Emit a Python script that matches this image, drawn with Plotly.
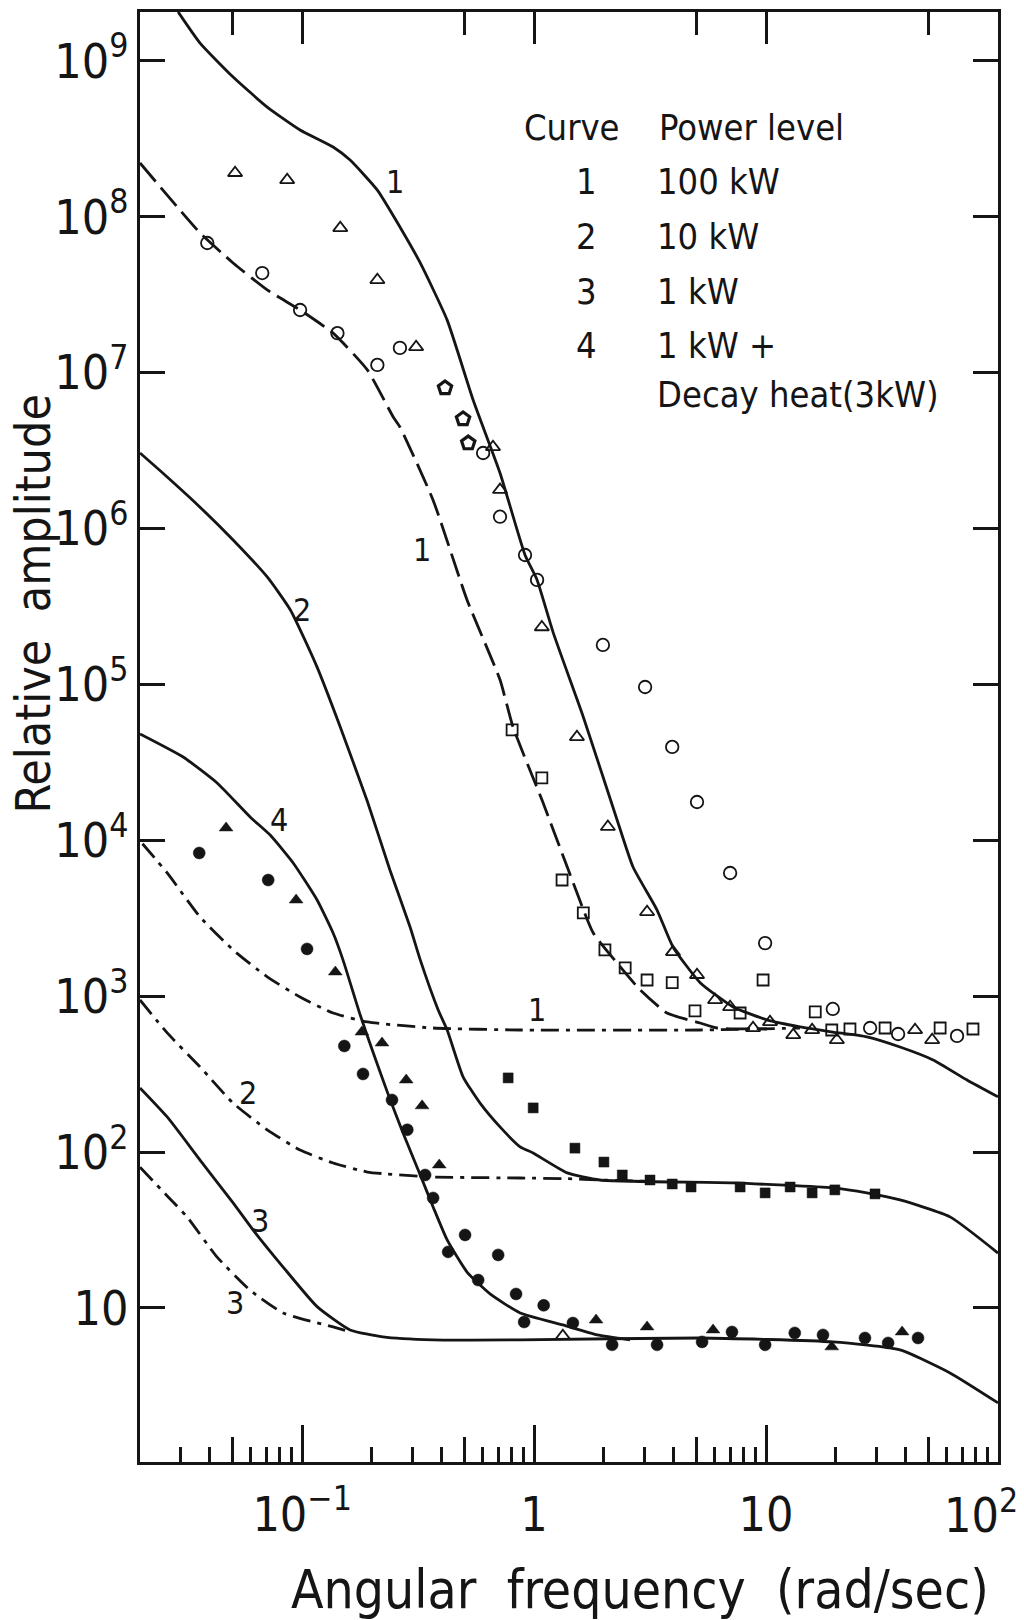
import plotly.graph_objects as go

INK = "#151515"
FONT = "DejaVu Sans Condensed, Liberation Sans Narrow, DejaVu Sans, sans-serif"

# ---------------- theoretical curves (x: rad/s, y: relative amplitude) ----------------
c1_solid_x = [0.0292, 0.0363, 0.0504, 0.0707, 0.0980, 0.136, 0.161, 0.211, 0.264, 0.323, 0.422, 0.546,
              0.713, 0.914, 1.03, 1.21, 1.63, 2.28, 2.67, 3.39, 3.97, 5.20, 7.21, 10.1, 14.0, 19.4,
              27.2, 37.8, 52.5, 73.5, 100]
c1_solid_y = [2.06e9, 1.30e9, 7.87e8, 5.05e8, 3.60e8, 2.80e8, 2.31e8, 1.48e8, 8.59e7, 5.05e7, 2.17e7, 6.67e6,
              2.27e6, 6.76e5, 4.68e5, 2.14e5, 6.18e4, 1.35e4, 6.74e3, 3.57e3, 2.07e3, 1.22e3, 853, 704, 635, 589,
              548, 472, 390, 290, 226]

c1_dash_x = [0.0200, 0.0363, 0.0504, 0.0707, 0.0980, 0.136, 0.191, 0.247, 0.264, 0.367, 0.514, 0.713,
             0.811, 1.09, 1.39, 1.80, 2.28, 2.86, 3.74, 5.20, 6.15, 10.1]
c1_dash_y = [2.21e8, 7.87e7, 5.05e7, 3.39e7, 2.52e7, 1.79e7, 1.04e7, 5.19e6, 4.48e6, 1.52e6, 3.48e5, 1.07e5,
             5.33e4, 1.76e4, 6.74e3, 2.54e3, 1.63e3, 1.10e3, 780, 673, 625, 616]

c1_dd_x = [0.0205, 0.0262, 0.0363, 0.0504, 0.0707, 0.0980, 0.136, 0.191, 0.367, 0.871, 5.20, 14.0]
c1_dd_y = [9.5e3, 6.17e3, 3.22e3, 1.98e3, 1.33e3, 988, 780, 683, 625, 607, 607, 625]

c2_solid_x = [0.0200, 0.0262, 0.0363, 0.0504, 0.0707, 0.0890, 0.116, 0.146, 0.191, 0.239, 0.292, 0.323,
              0.386, 0.422, 0.494, 0.585, 0.713, 0.871, 0.991, 1.39, 1.92, 7.21, 19.4, 27.2, 37.8, 62.1, 100]
c2_solid_y = [3.05e6, 2.14e6, 1.37e6, 8.44e5, 4.89e5, 3.00e5, 1.29e5, 5.33e4, 1.78e4, 6.45e3, 2.78e3, 1.71e3,
              816, 607, 304, 206, 145, 108, 98.6, 73.5, 66.2, 63.4, 58.9, 54.7, 49.3, 38.4, 22.5]

c2_dd_x = [0.0200, 0.0262, 0.0363, 0.0504, 0.0707, 0.0980, 0.136, 0.191, 0.232, 0.367, 0.871, 1.39, 1.92, 3.0]
c2_dd_y = [946, 581, 352, 206, 139, 103, 85.1, 74.5, 72.4, 69.2, 68.2, 67.5, 66.2, 65.0]

c3_solid_x = [0.0200, 0.0262, 0.0363, 0.0504, 0.0615, 0.0828, 0.116, 0.161, 0.223, 0.367, 0.871, 5.20,
              19.4, 37.8, 62.1, 100]
c3_solid_y = [258, 168, 88.9, 47.2, 31.6, 18.3, 10.2, 7.23, 6.52, 6.24, 6.24, 6.42, 6.06, 5.38, 3.83, 2.46]

c3_dd_x = [0.0200, 0.0262, 0.0319, 0.0430, 0.0597, 0.0828, 0.136, 0.161]
c3_dd_y = [80, 52.3, 38.4, 21.2, 13.0, 9.29, 7.56, 7.02]

c4_solid_x = [0.0200, 0.0307, 0.0430, 0.0597, 0.0728, 0.0915, 0.116, 0.136, 0.150, 0.178, 0.202, 0.232,
              0.272, 0.323, 0.367, 0.422, 0.514, 0.646, 0.871, 1.33, 1.87, 2.59]
c4_solid_y = [4.81e4, 3.42e4, 2.33e4, 1.41e4, 1.08e4, 7.15e3, 4.14e3, 2.54e3, 1.71e3, 757, 438, 247,
              133, 71.3, 44.5, 27.3, 17.0, 12.3, 9.29, 7.78, 6.72, 6.24]

# ---------------- measured points ----------------
open_circle_x = [0.0390, 0.0673, 0.0980, 0.142, 0.211, 0.264, 0.603, 0.713, 0.914, 1.03, 1.98, 3.01,
                 3.94, 5.04, 7.00, 9.91, 19.4, 28.1, 37.1, 66.6]
open_circle_y = [6.78e7, 4.35e7, 2.52e7, 1.79e7, 1.12e7, 1.44e7, 3.05e6, 1.19e6, 6.76e5, 4.68e5, 1.79e5, 9.62e4,
                 3.97e4, 1.76e4, 6.17e3, 2.19e3, 828, 625, 572, 556]

open_tri_x = [0.0514, 0.0862, 0.146, 0.211, 0.310, 0.665, 0.713, 1.08, 1.53, 2.08, 3.07, 3.97, 5.04,
              6.03, 7.00, 8.79, 10.4, 13.1, 15.8, 20.2, 43.9, 52.0, 1.33]
open_tri_y = [1.91e8, 1.72e8, 8.46e7, 3.93e7, 1.46e7, 3.33e6, 1.77e6, 2.33e5, 4.60e4, 1.22e4, 3.47e3, 1.92e3, 1.37e3,
              946, 853, 625, 683, 564, 607, 524, 607, 524, 6.61]

open_sq_x = [0.804, 1.08, 1.32, 1.63, 2.02, 2.47, 3.07, 3.94, 4.94, 7.73, 9.71, 16.3, 19.2, 23.0, 32.6, 56.3, 78.0]
open_sq_y = [5.10e4, 2.51e4, 5.56e3, 3.42e3, 1.98e3, 1.52e3, 1.27e3, 1.22e3, 804, 780, 1.27e3, 792, 607, 616, 625, 625, 616]

house_x = [0.413, 0.494, 0.520]
house_y = [7.96e6, 5.04e6, 3.53e6]

filled_sq_x = [0.773, 0.991, 1.50, 2.00, 2.40, 3.16, 3.94, 4.75, 7.73, 9.91, 12.7, 15.8, 19.8, 29.5]
filled_sq_y = [299, 192, 106, 86.3, 71.3, 66.2, 62.4, 59.7, 59.7, 54.7, 59.7, 54.7, 57.2, 53.9]

filled_circle_x = [0.0360, 0.0714, 0.105, 0.152, 0.183, 0.244, 0.284, 0.339, 0.367, 0.504, 0.426, 0.700,
                   0.574, 0.836, 1.10, 0.906, 1.47, 2.17, 3.39, 5.30, 7.13, 9.91, 13.3, 17.6, 26.7, 33.6, 45.2]
filled_circle_y = [8.29e3, 5.56e3, 2.01e3, 479, 317, 216, 139, 71.3, 50.8, 29.4, 22.9, 21.9,
                   15.1, 12.3, 10.4, 8.13, 8.01, 5.80, 5.80, 6.06, 7.02, 5.80, 6.92, 6.72, 6.42, 5.97, 6.42]

filled_tri_x = [0.0470, 0.0942, 0.139, 0.181, 0.221, 0.281, 0.329, 0.390, 1.85, 3.07, 5.91, 19.2, 38.6]
filled_tri_y = [1.20e4, 4.14e3, 1.43e3, 589, 501, 290, 198, 82.7, 8.37, 7.56, 7.23, 5.63, 7.02]

# ---------------- axis ticks / labels ----------------
x_major = [0.1, 1, 10, 100]
x_major_text = ["10<sup>\u22121</sup>", "1", "10", ""]
x_edge_label = "10<sup>2</sup>"          # label of the last major tick (drawn flush with the frame edge)
x_minor = [0.03, 0.04, 0.06, 0.07, 0.08, 0.09, 0.2, 0.3, 0.4, 0.6, 0.7, 0.8, 0.9,
           2, 3, 4, 6, 7, 8, 9, 20, 30, 40, 60, 70, 80, 90]
x_half = [0.05, 0.5, 5, 50]
x_top_major = [0.1, 1, 10]
y_major = [1e1, 1e2, 1e3, 1e4, 1e5, 1e6, 1e7, 1e8, 1e9]
y_major_text = ["10", "10<sup>2</sup>", "10<sup>3</sup>", "10<sup>4</sup>", "10<sup>5</sup>",
                "10<sup>6</sup>", "10<sup>7</sup>", "10<sup>8</sup>", "10<sup>9</sup>"]

legend_curves = ["1", "2", "3", "4", ""]
legend_levels = ["100 kW", "10 kW", "1 kW", "1 kW +", "Decay heat(3kW)"]

X_RANGE = [-1.699, 2.0]
Y_RANGE = [0.012, 9.313]
TW = 2.5

fig = go.Figure()

def line(x, y, dash=None, width=2.8):
    fig.add_trace(go.Scatter(x=x, y=y, mode="lines", hoverinfo="skip", showlegend=False,
                             line=dict(color=INK, width=width, dash=dash, shape="spline", smoothing=0.5)))

line(c1_solid_x, c1_solid_y)
line(c1_dash_x, c1_dash_y, dash="24px,8px")
line(c1_dd_x, c1_dd_y, dash="18px,7px,4px,7px")
line(c2_solid_x, c2_solid_y)
line(c2_dd_x, c2_dd_y, dash="18px,7px,4px,7px")
line(c3_solid_x, c3_solid_y)
line(c3_dd_x, c3_dd_y, dash="18px,7px,4px,7px")
line(c4_solid_x, c4_solid_y)

def pts(x, y, symbol, size, lw=1.8, xaxis="x"):
    fig.add_trace(go.Scatter(x=x, y=y, mode="markers", hoverinfo="skip", showlegend=False,
                             xaxis=xaxis, yaxis="y",
                             marker=dict(symbol=symbol, size=size, color=INK,
                                         line=dict(color=INK, width=lw))))

# (x2 / x3 share the exact range of x; they only carry the extra tick rows)
pts(open_circle_x, open_circle_y, "circle-open", 12.5, xaxis="x2")
pts(open_tri_x, open_tri_y, "triangle-up-open", 12.5)
pts(open_sq_x, open_sq_y, "square-open", 11)
pts(house_x, house_y, "pentagon-open", 14, lw=3.2)
pts(filled_sq_x, filled_sq_y, "square", 10, lw=0.5, xaxis="x3")
pts(filled_circle_x, filled_circle_y, "circle", 12, lw=0.5)
pts(filled_tri_x, filled_tri_y, "triangle-up", 12, lw=0.5)

# curve labels (positions in log10 data units)
curve_labels = [("1", -0.60, 8.22), ("1", -0.483, 5.86), ("2", -1.0, 5.48), ("4", -1.10, 4.13),
                ("1", 0.013, 2.91), ("2", -1.233, 2.38), ("3", -1.181, 1.56), ("3", -1.289, 1.03)]
anns = []
for t, lx, ly in curve_labels:
    anns.append(dict(text=t, x=lx, y=ly, xref="x", yref="y", showarrow=False,
                     xanchor="center", yanchor="middle",
                     font=dict(family=FONT, size=32, color=INK)))

# last x tick label, kept inside the page
anns.append(dict(text=x_edge_label, x=X_RANGE[1], y=-0.0345, xref="x", yref="paper",
                 xanchor="right", yanchor="middle", xshift=22, showarrow=False,
                 font=dict(family=FONT, size=48, color=INK)))

# legend table
LEG = 36
anns.append(dict(text="Curve", x=0.445, y=0.920, xref="paper", yref="paper", xanchor="left",
                 yanchor="middle", showarrow=False, font=dict(family=FONT, size=LEG, color=INK)))
anns.append(dict(text="Power level", x=0.603, y=0.920, xref="paper", yref="paper", xanchor="left",
                 yanchor="middle", showarrow=False, font=dict(family=FONT, size=LEG, color=INK)))
rows_y = [0.883, 0.845, 0.807, 0.770, 0.736]
for num, lvl, yy in zip(legend_curves, legend_levels, rows_y):
    if num:
        anns.append(dict(text=num, x=0.520, y=yy, xref="paper", yref="paper", xanchor="center",
                         yanchor="middle", showarrow=False, font=dict(family=FONT, size=LEG, color=INK)))
    anns.append(dict(text=lvl, x=0.600, y=yy, xref="paper", yref="paper", xanchor="left",
                     yanchor="middle", showarrow=False, font=dict(family=FONT, size=LEG, color=INK)))

# axis titles
anns.append(dict(text="Angular  frequency  (rad/sec)", x=0.583, y=-0.0876, xref="paper", yref="paper",
                 xanchor="center", yanchor="middle",
                 showarrow=False, font=dict(family=FONT, size=53, color=INK)))
anns.append(dict(text="Relative  amplitude", x=-0.1247, y=0.592, xref="paper", yref="paper",
                 xanchor="center", yanchor="middle",
                 textangle=-90, showarrow=False, font=dict(family=FONT, size=48, color=INK)))

fig.update_layout(
    width=1024, height=1620,
    margin=dict(l=140, r=26, t=12, b=158, autoexpand=False),
    paper_bgcolor="white", plot_bgcolor="white",
    showlegend=False,
    annotations=anns,
    xaxis=dict(type="log", range=X_RANGE, tickmode="array", tickvals=x_major, ticktext=x_major_text,
               ticks="inside", ticklen=37, tickwidth=TW, tickcolor=INK, automargin=False,
               showline=True, linewidth=2.8, linecolor=INK, mirror=True,
               showgrid=False, zeroline=False, ticklabelstandoff=8,
               tickfont=dict(family=FONT, size=48, color=INK),
               minor=dict(tickmode="array", tickvals=x_minor, ticks="inside", ticklen=15,
                          tickwidth=TW, tickcolor=INK, showgrid=False)),
    xaxis2=dict(type="log", range=X_RANGE, overlaying="x", side="top", anchor="y", automargin=False,
                tickmode="array", tickvals=x_top_major, ticks="inside", ticklen=32, tickwidth=TW,
                tickcolor=INK, showticklabels=False, showline=False, showgrid=False, zeroline=False,
                minor=dict(tickmode="array", tickvals=x_half, ticks="inside", ticklen=23,
                           tickwidth=TW, tickcolor=INK, showgrid=False)),
    xaxis3=dict(type="log", range=X_RANGE, overlaying="x", side="bottom", anchor="y", automargin=False,
                tickmode="array", tickvals=x_half, ticks="inside", ticklen=25, tickwidth=TW,
                tickcolor=INK, showticklabels=False, showline=False, showgrid=False, zeroline=False),
    yaxis=dict(type="log", range=Y_RANGE, tickmode="array", tickvals=y_major, ticktext=y_major_text,
               ticks="inside", ticklen=25, tickwidth=TW, tickcolor=INK, automargin=False,
               showline=True, linewidth=2.8, linecolor=INK, mirror="ticks",
               showgrid=False, zeroline=False, ticklabelstandoff=-1, ticklabeloverflow="allow",
               tickfont=dict(family=FONT, size=48, color=INK)),
)

fig.write_html("out.html")
